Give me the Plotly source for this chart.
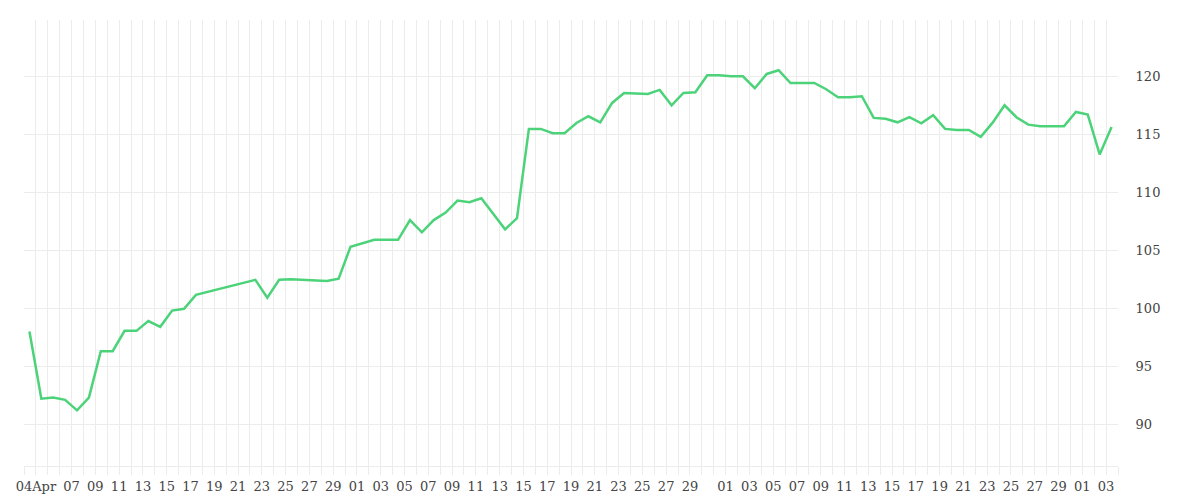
import pandas as pd
import plotly.graph_objects as go

# day index from 2024-04-03 (points sit around midday)
day_idx = [0, 1, 2, 3, 4, 5, 6, 7, 8, 9, 10, 11, 12, 13, 14, 19, 20, 21, 22, 23, 24, 25, 26, 27,
           29, 31, 32, 33, 34, 35, 36, 37, 38, 40, 41, 42, 43, 44, 45, 46, 47, 48, 49, 50, 52,
           53, 54, 55, 56, 57, 58, 59, 60, 61, 62, 63, 64, 65, 66, 67, 68, 69, 70, 71, 72, 73,
           74, 75, 76, 77, 78, 79, 80, 81, 82, 83, 84, 85, 87, 88, 89, 90, 91]
values = [98.0, 92.2, 92.3, 92.1, 91.2, 92.3, 96.3, 96.3, 98.05, 98.05, 98.9, 98.4, 99.8, 99.95,
          101.15, 102.45, 100.9, 102.45, 102.5, 102.45, 102.45, 102.35, 102.55, 105.3,
          105.9, 105.9, 107.6, 106.55, 107.6, 108.25, 109.28, 109.14, 109.48, 106.8, 107.76,
          115.46, 115.46, 115.09, 115.09, 115.97, 116.55, 116.03, 117.7, 118.56, 118.47,
          118.82, 117.5, 118.56, 118.62, 120.09, 120.09, 120.0, 120.0, 118.97, 120.2, 120.52,
          119.42, 119.42, 119.42, 118.88, 118.19, 118.19, 118.28, 116.41, 116.33, 116.03,
          116.47, 115.95, 116.64, 115.46, 115.37, 115.37, 114.78, 116.0, 117.5, 116.47,
          115.83, 115.69, 115.69, 116.92, 116.69, 113.26, 115.63]

tick_dates = (["2024-04-04"] + [f"2024-04-{d:02d}" for d in range(7, 30, 2)]
              + [f"2024-05-{d:02d}" for d in range(1, 30, 2)]
              + [f"2024-06-{d:02d}" for d in range(1, 30, 2)]
              + ["2024-07-01", "2024-07-03"])
tick_text = ["04Apr"] + [d[-2:] for d in tick_dates[1:]]

start = pd.Timestamp("2024-04-03")
x = [start + pd.Timedelta(days=k) + pd.Timedelta(hours=11) for k in day_idx]

fig = go.Figure(go.Scatter(x=x, y=values, mode="lines",
                           line=dict(color="#4cd37a", width=2.5)))

grid = "#ececec"
fig.update_layout(
    width=1200, height=500,
    margin=dict(l=16, r=90, t=12, b=42, autoexpand=False),
    paper_bgcolor="white", plot_bgcolor="white",
    showlegend=False,
    font=dict(family="DejaVu Serif, Liberation Serif, serif", size=13, color="#444"),
    xaxis=dict(
        type="date", automargin=False,
        range=["2024-04-03", "2024-07-04"],
        tickvals=tick_dates, ticktext=tick_text,
        showgrid=True, gridcolor=grid,
        ticks="outside", ticklen=8, tickcolor=grid,
        showline=True, linecolor=grid,
        minor=dict(dtick=86400000, showgrid=True, gridcolor=grid,
                   ticks="outside", ticklen=8, tickcolor=grid),
        zeroline=False,
    ),
    yaxis=dict(
        side="right", automargin=False,
        range=[86.4, 124.85],
        tickvals=[90, 95, 100, 105, 110, 115, 120],
        showgrid=True, gridcolor=grid,
        zeroline=False, ticks="outside", ticklen=14, tickcolor="rgba(0,0,0,0)",
    ),
)

fig.write_html("out.html")
